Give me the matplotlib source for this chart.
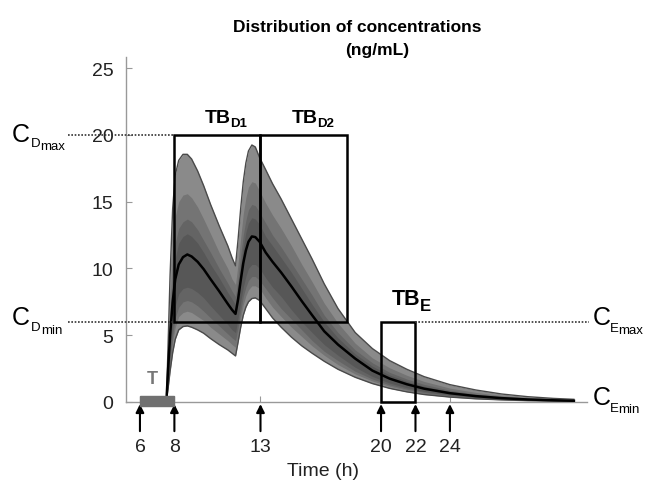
import matplotlib
matplotlib.use('Agg')
import matplotlib.pyplot as plt
from matplotlib.patches import Rectangle

plt.rcParams['font.family'] = ['Liberation Sans', 'DejaVu Sans']

# time (h) and concentration percentiles (ng/mL)
t = [7.55, 7.65, 7.75, 7.9, 8.05, 8.25, 8.5, 8.75, 9.0, 9.35, 9.7, 10.1, 10.6, 11.1,
     11.35, 11.55, 11.7, 11.85, 12.0, 12.15, 12.3, 12.5, 12.7, 12.95, 13.3, 13.7,
     14.2, 14.8, 15.4, 16.0, 16.7, 17.5, 18.5, 19.5, 20.5, 21.5, 22.5, 24.0, 25.5,
     27.0, 28.5, 30.0, 31.2]
median = [0.4, 2.8, 5.0, 7.5, 9.2, 10.3, 10.85, 11.05, 10.9, 10.5, 9.95, 9.2, 8.3, 7.35,
          6.9, 6.6, 7.7, 9.1, 10.4, 11.35, 12.0, 12.4, 12.35, 12.0, 11.2, 10.5,
          9.7, 8.65, 7.55, 6.5, 5.3, 4.3, 3.25, 2.35, 1.75, 1.33, 1.0, 0.66, 0.44,
          0.29, 0.19, 0.13, 0.09]
outer_hi = [0.6, 5.0, 9.5, 14.5, 17.0, 18.1, 18.55, 18.55, 18.2, 17.3, 16.2, 14.8, 13.2, 11.7,
            10.8, 10.2, 12.2, 14.5, 16.5, 17.9, 18.8, 19.25, 19.1, 18.3, 17.4, 16.35,
            15.2, 13.7, 12.2, 10.7, 8.85, 7.0, 5.2, 4.0, 3.1, 2.45, 1.9, 1.3, 0.9,
            0.6, 0.4, 0.27, 0.2]
outer_lo = [0.2, 1.2, 2.3, 3.7, 4.7, 5.4, 5.65, 5.7, 5.6, 5.4, 5.15, 4.75, 4.3, 3.9,
            3.65, 3.45, 4.5, 5.6, 6.5, 7.1, 7.5, 7.75, 7.8, 7.6, 7.0, 6.3,
            5.6, 4.85, 4.2, 3.65, 3.05, 2.45, 1.85, 1.38, 1.02, 0.76, 0.56, 0.37, 0.24,
            0.16, 0.1, 0.07, 0.05]
b2_hi = [0.52, 4.1, 7.7, 11.7, 13.9, 15.0, 15.5, 15.6, 15.3, 14.6, 13.7, 12.6, 11.2, 10.0,
         9.2, 8.8, 10.4, 12.3, 14.1, 15.3, 16.1, 16.5, 16.4, 15.8, 14.9, 14.0,
         13.0, 11.7, 10.3, 9.0, 7.4, 5.9, 4.4, 3.3, 2.56, 2.0, 1.54, 1.04, 0.72,
         0.48, 0.32, 0.21, 0.16]
b2_lo = [0.24, 1.5, 2.8, 4.5, 5.6, 6.4, 6.7, 6.8, 6.7, 6.4, 6.1, 5.6, 5.1, 4.6,
         4.3, 4.1, 5.1, 6.3, 7.3, 7.95, 8.4, 8.7, 8.7, 8.5, 7.8, 7.1,
         6.4, 5.6, 4.9, 4.2, 3.5, 2.8, 2.1, 1.57, 1.17, 0.87, 0.65, 0.43, 0.28,
         0.19, 0.12, 0.08, 0.06]
b3_hi = [0.47, 3.6, 6.6, 10.0, 11.9, 13.0, 13.5, 13.7, 13.5, 12.9, 12.1, 11.2, 10.0, 8.9,
         8.3, 7.9, 9.3, 11.0, 12.5, 13.6, 14.4, 14.8, 14.7, 14.2, 13.4, 12.5,
         11.6, 10.4, 9.2, 8.0, 6.5, 5.2, 3.9, 2.93, 2.22, 1.72, 1.32, 0.88, 0.6,
         0.4, 0.26, 0.18, 0.13]
b3_lo = [0.27, 1.8, 3.2, 5.0, 6.3, 7.1, 7.5, 7.6, 7.5, 7.2, 6.8, 6.3, 5.7, 5.1,
         4.8, 4.6, 5.6, 6.8, 7.9, 8.6, 9.1, 9.4, 9.4, 9.1, 8.5, 7.8,
         7.0, 6.2, 5.4, 4.6, 3.8, 3.1, 2.3, 1.72, 1.28, 0.96, 0.71, 0.47, 0.31,
         0.21, 0.13, 0.09, 0.06]
b4_hi = [0.44, 3.2, 5.9, 8.9, 10.8, 11.9, 12.4, 12.6, 12.4, 11.9, 11.2, 10.3, 9.3, 8.2,
         7.7, 7.3, 8.6, 10.2, 11.6, 12.7, 13.4, 13.8, 13.7, 13.3, 12.4, 11.7,
         10.8, 9.7, 8.5, 7.3, 6.0, 4.8, 3.6, 2.68, 2.02, 1.55, 1.18, 0.79, 0.53,
         0.35, 0.23, 0.16, 0.11]
b4_lo = [0.31, 2.1, 3.8, 5.8, 7.2, 8.1, 8.5, 8.6, 8.5, 8.2, 7.8, 7.2, 6.5, 5.8,
         5.4, 5.2, 6.3, 7.5, 8.6, 9.4, 10.0, 10.3, 10.3, 10.0, 9.3, 8.6,
         7.9, 6.9, 6.0, 5.2, 4.3, 3.5, 2.6, 1.91, 1.42, 1.07, 0.8, 0.53, 0.35,
         0.23, 0.15, 0.1, 0.07]

arrow_times = [6, 8, 13, 20, 22, 24]
yticks = [0, 5, 10, 15, 20, 25]
c_d_min, c_d_max = 6, 20
c_e_min, c_e_max = 0, 6

W, H = 650, 485
fig = plt.figure(figsize=(W / 100, H / 100), dpi=100)
ax = fig.add_axes([126 / W, 82 / H, 461 / W, 345 / H])
ax.set_xlim(5.19, 31.96)
ax.set_ylim(0, 25.84)


def ptxt(x, y, s, **kw):
    kw.setdefault('va', 'baseline')
    kw.setdefault('ha', 'left')
    fig.text(x / W, 1 - y / H, s, **kw)


# percentile bands
ax.fill_between(t, outer_lo, outer_hi, color='#8a8a8a', lw=0, zorder=1)
ax.fill_between(t, b2_lo, b2_hi, color='#747474', lw=0, zorder=1)
ax.fill_between(t, b3_lo, b3_hi, color='#646464', lw=0, zorder=1)
ax.fill_between(t, b4_lo, b4_hi, color='#575757', lw=0, zorder=1)
ax.plot(t, outer_hi, color='#4a4a4a', lw=1, zorder=2)
ax.plot(t, outer_lo, color='#4a4a4a', lw=1, zorder=2)
ax.plot(t, median, color='black', lw=1.8, zorder=3)

# target boxes
for x0, x1, y0, y1 in [(8, 13, c_d_min, c_d_max), (13, 18, c_d_min, c_d_max),
                       (20, 22, c_e_min, c_e_max)]:
    ax.add_patch(Rectangle((x0, y0), x1 - x0, y1 - y0, fill=False, ec='black',
                           lw=1.8, zorder=4, clip_on=False))

# dotted reference lines
dots = dict(color='#333333', lw=1.2, ls=(0, (1, 1)), clip_on=False, zorder=4)
ax.plot([1.8, 8], [c_d_max, c_d_max], **dots)
ax.plot([1.8, 8], [c_d_min, c_d_min], **dots)
ax.plot([22, 32.1], [c_e_max, c_e_max], **dots)

# infusion bar
ax.add_patch(Rectangle((6, -0.3), 2, 0.75, color='#707070', clip_on=False, zorder=5))

# axes styling
for s in ['top', 'right']:
    ax.spines[s].set_visible(False)
for s in ['left', 'bottom']:
    ax.spines[s].set_color('#999999')
    ax.spines[s].set_linewidth(1)
ax.set_yticks(yticks)
ax.tick_params(axis='y', direction='in', length=4, color='#999999', pad=9,
               labelsize=14, labelcolor='#222222')
ax.set_xticks(arrow_times)
ax.tick_params(axis='x', direction='in', length=4, color='#999999', labelbottom=False)

for h in arrow_times:
    ax.annotate('', xy=(h, 0), xytext=(0, -21), textcoords='offset points',
                arrowprops=dict(arrowstyle='-|>', color='black', lw=1.5,
                                mutation_scale=12, shrinkA=0, shrinkB=1.5),
                annotation_clip=False)
    ax.annotate(str(h), xy=(h, 0), xytext=(0, -32), textcoords='offset points',
                ha='center', va='center', fontsize=14, color='#222222',
                annotation_clip=False)

ptxt(323, 472, 'Time (h)', fontsize=14, ha='center', va='center', color='#222222')

# title
ptxt(357, 32, 'Distribution of concentrations', fontsize=12.5, weight='bold', ha='center')
ptxt(377, 55, '(ng/mL)', fontsize=12.5, weight='bold', ha='center')

# concentration limit labels
ptxt(12, 142, 'C', fontsize=18)
ptxt(31, 147, 'D', fontsize=9.5)
ptxt(40, 149.5, 'max', fontsize=9.5)
ptxt(12, 325, 'C', fontsize=18)
ptxt(31, 331, 'D', fontsize=9.5)
ptxt(41, 333.5, 'min', fontsize=9.5)
ptxt(593, 325, 'C', fontsize=18)
ptxt(610, 332, 'E', fontsize=9.5)
ptxt(618, 333.5, 'max', fontsize=9.5)
ptxt(593, 405, 'C', fontsize=18)
ptxt(610, 412, 'E', fontsize=9.5)
ptxt(618, 413.5, 'min', fontsize=9.5)

# box labels
ptxt(205, 123, 'TB', fontsize=14, weight='bold')
ptxt(230, 127, 'D1', fontsize=9.5, weight='bold')
ptxt(292, 123, 'TB', fontsize=14, weight='bold')
ptxt(317, 127, 'D2', fontsize=9.5, weight='bold')
ptxt(392, 305, 'TB', fontsize=15.5, weight='bold')
ptxt(420, 311, 'E', fontsize=12, weight='bold')
ptxt(147, 384, 'T', fontsize=13, weight='bold', color='#777777')

fig.savefig('out.png', dpi=100)
